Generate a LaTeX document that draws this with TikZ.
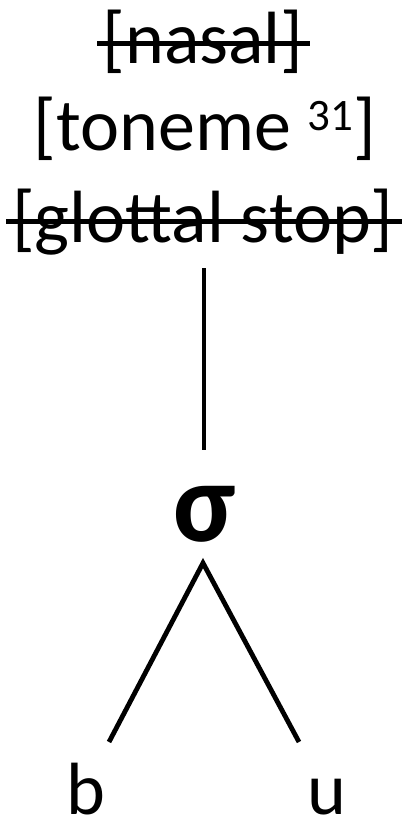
\documentclass[tikz,border=0pt]{standalone}
\usepackage{fontspec}
\setmainfont{Carlito}
\begin{document}
\begin{tikzpicture}[x=1pt,y=-1pt,
  lbl/.style={inner sep=0pt,anchor=base,font=\fontsize{74}{86}\selectfont},
  sig/.style={inner sep=0pt,anchor=base,font=\fontsize{114}{120}\selectfont\bfseries},
  strike/.style={line width=5pt,black},
  branch/.style={line width=4.8pt,black}]
\useasboundingbox (0,0) rectangle (405,819);
\node[lbl] (nasal) at (203,63) {[nasal]};
\node[lbl] (toneme) at (205,150) {[toneme \raisebox{20pt}{\fontsize{45}{45}\selectfont 31}]};
\node[lbl] (glottal) at (203,242) {[glottal stop]};
\draw[strike] ([xshift=-5pt,yshift=20pt]nasal.base west) -- ([xshift=6pt,yshift=20pt]nasal.base east);
\draw[strike] ([xshift=-6pt,yshift=21pt]glottal.base west) -- ([xshift=8pt,yshift=21pt]glottal.base east);
\node[sig] (sigma) at (205,541) {σ};
\node[lbl] (b) at (86,814) {b};
\node[lbl] (u) at (327,814) {u};
\coordinate (vtop) at (204,268);
\coordinate (vbot) at (204,450);
\coordinate (apex) at (203,563);
\coordinate (bend) at (109,742);
\coordinate (uend) at (299,742);
\draw[branch] (vtop) -- (vbot);
\draw[branch] (bend) -- (apex) -- (uend);
\end{tikzpicture}
\end{document}
